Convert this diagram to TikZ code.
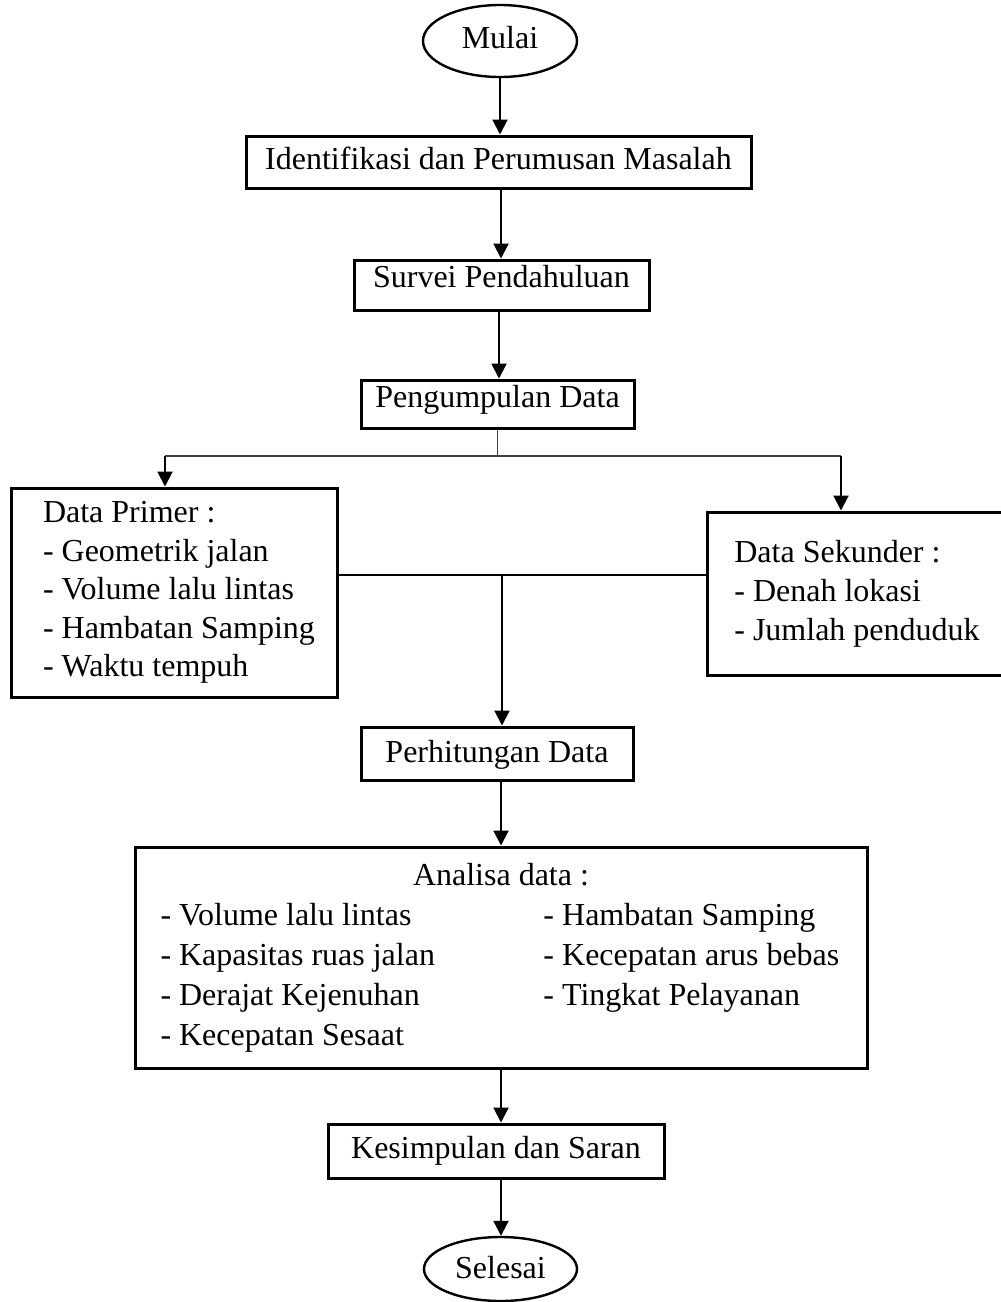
\documentclass[tikz,border=0pt]{standalone}
\usepackage{fontspec}
\setmainfont{Liberation Serif}
\usetikzlibrary{arrows.meta,shapes.geometric}
\begin{document}
\begin{tikzpicture}[x=1pt,y=-1pt,
  txt/.style={font=\fontsize{32}{38.6}\selectfont},
  box/.style={draw, line width=3pt, rectangle, inner sep=0pt, txt},
  oval/.style={draw, ellipse, line width=2.4pt, inner sep=0pt, txt},
  bl/.style={text height=#1, text depth=0pt},
  conn/.style={line width=2.1pt},
  thinconn/.style={line width=1.3pt, black!75},
  arr/.style={conn, -{Triangle[length=15pt,width=15pt]}},
]
\useasboundingbox (0,0) rectangle (1001,1302);

\node[oval, minimum width=154pt, minimum height=72pt, bl=14pt] (mulai) at (500,41) {Mulai};
\node[box, minimum width=505pt, minimum height=52pt, bl=14pt] (ident) at (498.5,162) {Identifikasi dan Perumusan Masalah};
\node[box, minimum width=295pt, minimum height=50pt, bl=4pt] (survei) at (501.5,285) {Survei Pendahuluan};
\node[box, minimum width=273pt, minimum height=48pt, bl=6pt] (kumpul) at (497.5,404) {Pengumpulan Data};

\node[box, minimum width=326pt, minimum height=209pt, align=left] (primer) at (174,592.5)
  {\hspace*{10pt}Data Primer :\\\hspace*{10pt}- Geometrik jalan\\\hspace*{10pt}- Volume lalu lintas\\\hspace*{10pt}- Hambatan Samping\\\hspace*{10pt}- Waktu tempuh};
\node[box, minimum width=300pt, minimum height=163pt, align=left, font=\fontsize{32}{39}\selectfont] (sekunder) at (857,593.5)
  {Data Sekunder :\\- Denah lokasi\\- Jumlah penduduk};

\node[box, minimum width=272pt, minimum height=53pt, bl=18pt] (hitung) at (497,753.5) {Perhitungan Data};

\node[box, minimum width=732pt, minimum height=221pt, align=center, font=\fontsize{32}{40}\selectfont] (analisa) at (501,957.5)
  {Analisa data :\\
   \makebox[681pt][l]{\makebox[383pt][l]{- Volume lalu lintas}- Hambatan Samping}\\
   \makebox[681pt][l]{\makebox[383pt][l]{- Kapasitas ruas jalan}- Kecepatan arus bebas}\\
   \makebox[681pt][l]{\makebox[383pt][l]{- Derajat Kejenuhan}- Tingkat Pelayanan}\\
   \makebox[681pt][l]{\makebox[383pt][l]{- Kecepatan Sesaat}}};

\node[box, minimum width=336pt, minimum height=54pt, bl=14pt] (simpul) at (496,1151) {Kesimpulan dan Saran};
\node[oval, minimum width=153pt, minimum height=64pt, bl=18pt] (selesai) at (500.5,1269) {Selesai};

% main flow
\draw[arr] (mulai.south) -- (mulai.south |- ident.north);
\draw[arr] (501,188) coordinate (a1) -- (a1 |- survei.north);
\draw[arr] (499,310) coordinate (a2) -- (a2 |- kumpul.north);

% split
\coordinate (sl) at (165,456);
\coordinate (sr) at (841,456);
\draw[thinconn] (kumpul.south) -- (kumpul.south |- sl);
\draw[thinconn] (sl) -- (sr);
\draw[arr] (sl) -- (sl |- primer.north);
\draw[arr] (sr) -- (sr |- sekunder.north);

% merge
\coordinate (mg) at (502,575);
\draw[conn] (primer.east |- mg) -- (sekunder.west |- mg);
\draw[arr] (mg) -- (mg |- hitung.north);

\draw[arr] (501,780) coordinate (a3) -- (a3 |- analisa.north);
\draw[arr] (501,1068) coordinate (a4) -- (a4 |- simpul.north);
\draw[arr] (501,1178) coordinate (a5) -- (a5 |- selesai.north);
\end{tikzpicture}
\end{document}
